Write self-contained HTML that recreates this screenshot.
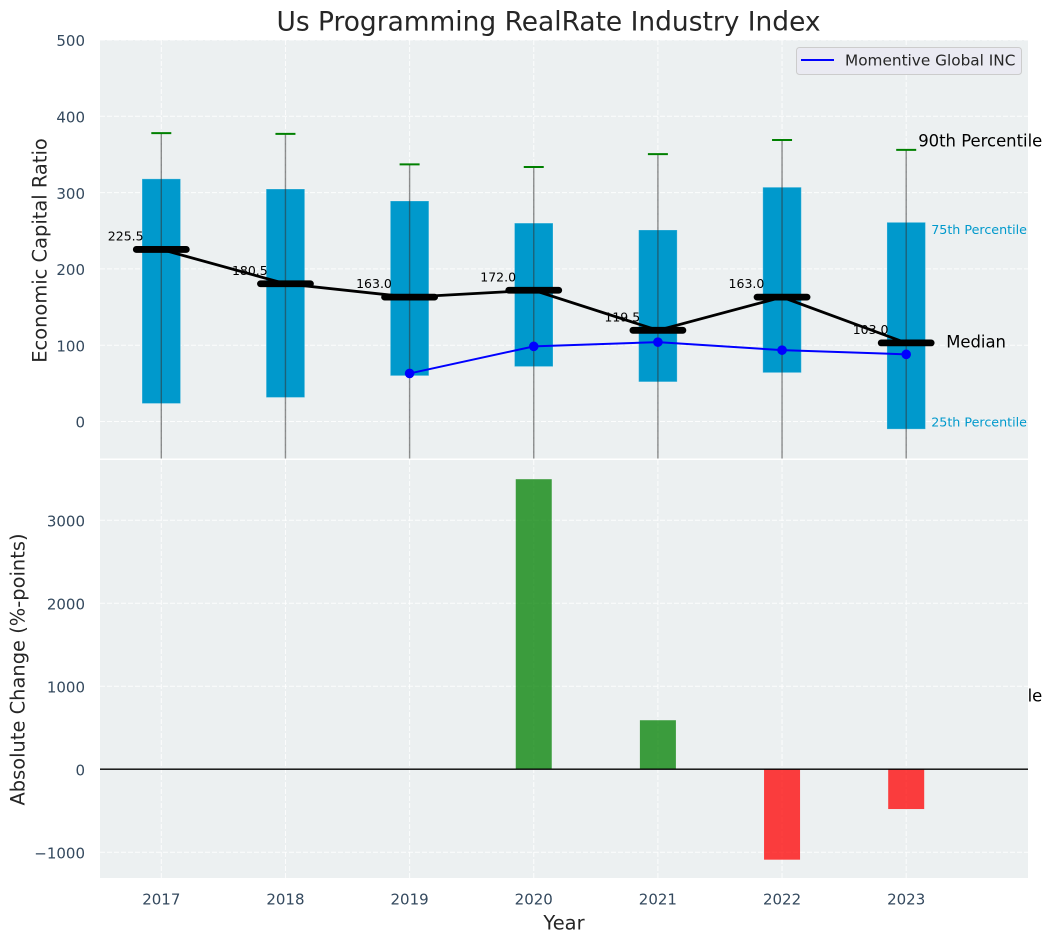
<!DOCTYPE html>
<html lang="en">
<head>
<meta charset="utf-8">
<title>Us Programming RealRate Industry Index</title>
<style>
html,body{margin:0;padding:0;background:#fff;width:1053px;height:942px;overflow:hidden}
svg{display:block;font-family:"DejaVu Sans","Liberation Sans",sans-serif}
</style>
</head>
<body>
<svg id="chart" xmlns="http://www.w3.org/2000/svg" width="1053" height="942" viewBox="0 0 1053 942"></svg>
<script>
const years = [2017, 2018, 2019, 2020, 2021, 2022, 2023];
const p10 = [-120, -140, -110, -150, -170, -130, -348];
const p25 = [23.6, 31.5, 60, 72, 52, 64, -10];
const medians = [225.5, 180.5, 163, 172, 119.5, 163, 103];
const p75 = [318, 304.7, 289, 260, 251, 307, 261];
const p90 = [378, 377, 337, 333.5, 350.5, 369, 356];
const companyValues = [null, null, 63, 98.5, 104, 93.5, 88];
const changeValues = [null, null, null, 3494, 590, -1090, -480];
const topTicks = [0, 100, 200, 300, 400, 500];
const bottomTicks = [-1000, 0, 1000, 2000, 3000];
const bottomTickLabels = ['\u22121000', '0', '1000', '2000', '3000'];

const NS = 'http://www.w3.org/2000/svg';
const svg = document.getElementById('chart');
const AX = {left: 100, right: 1028, topY: 40, topBottom: 458.5, botY: 460, botBottom: 878};
const xScale = function (year) { return 161.3 + (year - 2017) * 124.15; };
const xSpan = function (units) { return units * 124.15; };
const yTop = function (v) { return 421.5 - v * 0.763; };
const yBot = function (v) { return 769.2 - v * 0.083; };

function mk(tag, attrs, parent, text) {
  const el = document.createElementNS(NS, tag);
  for (const k in attrs) { el.setAttribute(k, attrs[k]); }
  if (text !== undefined) { el.textContent = text; }
  (parent || svg).appendChild(el);
  return el;
}

const defs = mk('defs', {});
const clip = mk('clipPath', {id: 'top-clip'}, defs);
mk('rect', {x: AX.left, y: AX.topY, width: AX.right - AX.left, height: AX.topBottom - AX.topY}, clip);

/* top axes */
const topBg = mk('rect', {x: AX.left, y: AX.topY, width: AX.right - AX.left, height: AX.topBottom - AX.topY, fill: '#ecf0f1'});



const gridStyle = {stroke: '#ffffff', 'stroke-width': 1, 'stroke-dasharray': '5 2', 'stroke-opacity': 0.85};
const TICK_FONT = 15;

topTicks.forEach(function (t) {
  const g = mk('line', Object.assign({x1: AX.left, x2: AX.right, y1: yTop(t), y2: yTop(t)}, gridStyle));
  
  
  const lab = mk('text', {x: 85, y: yTop(t) + 1.2, 'text-anchor': 'end', 'dominant-baseline': 'central', 'font-size': TICK_FONT, fill: '#34495e'}, svg, String(t));
  
  
});
years.forEach(function (yr) {
  const g = mk('line', Object.assign({x1: xScale(yr), x2: xScale(yr), y1: AX.topY, y2: AX.topBottom}, gridStyle));
  
  
});

const marks = mk('g', {'clip-path': 'url(#top-clip)'});



years.forEach(function (yr, i) {
  const box = mk('rect', {x: xScale(yr) - xSpan(0.155), width: xSpan(0.31), y: yTop(p75[i]), height: yTop(p25[i]) - yTop(p75[i]), fill: '#0099cc', stroke: '#ffffff', 'stroke-opacity': 0.25, 'stroke-width': 1}, marks);
  
  
});
years.forEach(function (yr, i) {
  const w = mk('line', {x1: xScale(yr), x2: xScale(yr), y1: yTop(p90[i]), y2: yTop(p10[i]), stroke: '#333333', 'stroke-opacity': 0.55, 'stroke-width': 1.4}, marks);
  
  
  const cap = mk('line', {x1: xScale(yr) - 10, x2: xScale(yr) + 10, y1: yTop(p90[i]), y2: yTop(p90[i]), stroke: '#008000', 'stroke-width': 2}, marks);
  
  
});
years.forEach(function (yr, i) {
  const t = mk('text', {x: xScale(yr) - 53.5, y: yTop(medians[i]) - 13.5, 'dominant-baseline': 'central', 'font-size': 12.5, fill: '#000000'}, marks, medians[i].toFixed(1));
  
  
});

const medianPath = mk('polyline', {points: years.map(function (yr, i) { return xScale(yr) + ',' + yTop(medians[i]); }).join(' '), fill: 'none', stroke: '#000000', 'stroke-width': 2.8}, marks);



years.forEach(function (yr, i) {
  const m = mk('line', {x1: xScale(yr) - 25, x2: xScale(yr) + 25, y1: yTop(medians[i]), y2: yTop(medians[i]), stroke: '#000000', 'stroke-width': 6.8, 'stroke-linecap': 'round'}, marks);
  
  
});

const companyPts = years.map(function (yr, i) { return companyValues[i] === null ? null : [xScale(yr), yTop(companyValues[i])]; }).filter(Boolean);
const companyLine = mk('polyline', {points: companyPts.map(function (p) { return p.join(','); }).join(' '), fill: 'none', stroke: '#0000ff', 'stroke-width': 2}, marks);


companyPts.forEach(function (p) {
  const c = mk('circle', {cx: p[0], cy: p[1], r: 4.8, fill: '#0000ff'}, marks);
  
  
});

/* percentile annotations on the last year */
const lastI = years.length - 1;
const lastX = xScale(years[lastI]);
const a90 = mk('text', {x: lastX + 12, y: yTop(p90[lastI]) - 9, 'dominant-baseline': 'central', 'font-size': 16.45, fill: '#000'}, svg, '90th Percentile');


const a75 = mk('text', {x: lastX + 25, y: yTop(p75[lastI]) + 7, 'dominant-baseline': 'central', 'font-size': 12.7, fill: '#0099cc'}, svg, '75th Percentile');


const aMed = mk('text', {x: lastX + 40, y: yTop(medians[lastI]) - 1, 'dominant-baseline': 'central', 'font-size': 16.45, fill: '#000'}, svg, 'Median');


const a25 = mk('text', {x: lastX + 25, y: yTop(p25[lastI]) - 7, 'dominant-baseline': 'central', 'font-size': 12.7, fill: '#0099cc'}, svg, '25th Percentile');


const a10 = mk('text', {x: lastX + 12, y: yTop(p10[lastI]) + 9, 'dominant-baseline': 'central', 'font-size': 16.45, fill: '#000'}, svg, '10th Percentile');



/* legend */
const legend = mk('g', {});


mk('rect', {x: 796.5, y: 47.5, width: 225, height: 27, rx: 3, fill: '#eaeaf2', stroke: '#cccccc', 'stroke-width': 1}, legend);
const legendSwatch = mk('line', {x1: 801, x2: 834, y1: 60, y2: 60, stroke: '#0000ff', 'stroke-width': 2}, legend);


const legendText = mk('text', {x: 845, y: 60.5, 'dominant-baseline': 'central', 'font-size': 15.3, fill: '#262626'}, legend, 'Momentive Global INC');



/* bottom axes (covers overflowing annotation text) */
const botBg = mk('rect', {x: AX.left, y: AX.botY, width: AX.right - AX.left, height: AX.botBottom - AX.botY, fill: '#ecf0f1'});



bottomTicks.forEach(function (t, i) {
  const g = mk('line', Object.assign({x1: AX.left, x2: AX.right, y1: yBot(t), y2: yBot(t)}, gridStyle));
  
  
  const lab = mk('text', {x: 85, y: yBot(t) + 1.2, 'text-anchor': 'end', 'dominant-baseline': 'central', 'font-size': TICK_FONT, fill: '#34495e'}, svg, bottomTickLabels[i]);
  
  
});
years.forEach(function (yr) {
  const g = mk('line', Object.assign({x1: xScale(yr), x2: xScale(yr), y1: AX.botY, y2: AX.botBottom}, gridStyle));
  
  
  const lab = mk('text', {x: xScale(yr), y: 899.5, 'text-anchor': 'middle', 'dominant-baseline': 'central', 'font-size': TICK_FONT, fill: '#34495e'}, svg, String(yr));
  
  
});

years.forEach(function (yr, i) {
  const v = changeValues[i];
  if (v === null) { return; }
  const b = mk('rect', {x: xScale(yr) - xSpan(0.145), width: xSpan(0.29), y: Math.min(yBot(v), yBot(0)), height: Math.abs(yBot(v) - yBot(0)), fill: v >= 0 ? '#008000' : '#ff0000', 'fill-opacity': 0.75});
  
  
});
const zero = mk('line', {x1: AX.left, x2: AX.right, y1: yBot(0), y2: yBot(0), stroke: '#000000', 'stroke-width': 1.3});



/* titles */
const title = mk('text', {x: 548.5, y: 30.5, 'text-anchor': 'middle', 'font-size': 26.45, fill: '#262626'}, svg, 'Us Programming RealRate Industry Index');


const yl1 = mk('text', {transform: 'translate(40 250.5) rotate(-90)', 'text-anchor': 'middle', 'dominant-baseline': 'central', 'font-size': 19.45, fill: '#262626'}, svg, 'Economic Capital Ratio');


const yl2 = mk('text', {transform: 'translate(18 669.5) rotate(-90)', 'text-anchor': 'middle', 'dominant-baseline': 'central', 'font-size': 19.45, fill: '#262626'}, svg, 'Absolute Change (%-points)');


const xl = mk('text', {x: 564, y: 923, 'text-anchor': 'middle', 'dominant-baseline': 'central', 'font-size': 19.45, fill: '#262626'}, svg, 'Year');


</script>
</body>
</html>
